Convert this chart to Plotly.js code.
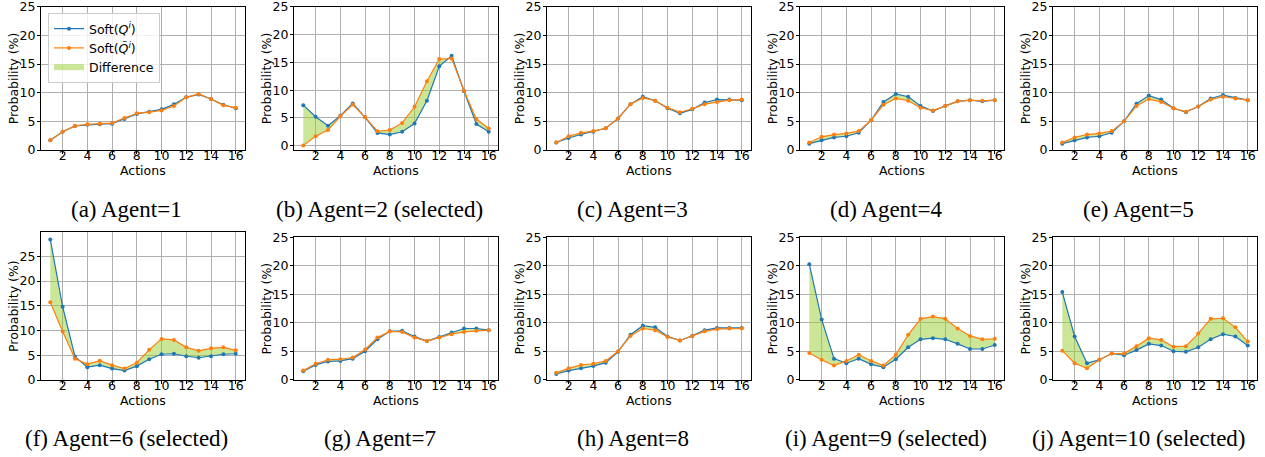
<!DOCTYPE html>
<html>
<head>
<meta charset="utf-8">
<script src="https://cdn.plot.ly/plotly-3.0.1.min.js"></script>
<style>html,body{margin:0;padding:0;background:#fff;}#chart{width:1265px;height:457px;}</style>
</head>
<body>
<div id="chart"></div>
<script>
// ---- data ----
const actions = [1,2,3,4,5,6,7,8,9,10,11,12,13,14,15,16];
const xTicks = [2,4,6,8,10,12,14,16];
const yTicks = [0,5,10,15,20,25];

const captions = [
  "(a) Agent=1", "(b) Agent=2 (selected)", "(c) Agent=3", "(d) Agent=4", "(e) Agent=5",
  "(f) Agent=6 (selected)", "(g) Agent=7", "(h) Agent=8", "(i) Agent=9 (selected)", "(j) Agent=10 (selected)"
];
const xTitle = "Actions";
const yTitle = "Probability (%)";

const softQ_agent1  = [1.7,3.2,4.2,4.4,4.5,4.6,5.4,6.3,6.7,7.1,8.0,9.2,9.7,8.9,7.9,7.3];
const softQt_agent1 = [1.7,3.2,4.2,4.5,4.6,4.7,5.6,6.4,6.6,6.9,7.7,9.2,9.8,8.9,7.8,7.4];

const softQ_agent2  = [7.3,5.2,3.6,5.4,7.6,5.1,2.3,2.0,2.5,4.0,8.1,14.3,16.2,9.8,3.9,2.5];
const softQt_agent2 = [0.05,1.7,2.8,5.3,7.4,5.1,2.6,2.8,4.1,7.0,11.6,15.6,15.7,9.9,4.8,3.1];

const softQ_agent3  = [1.3,2.1,2.7,3.2,3.8,5.5,8.0,9.3,8.6,7.3,6.4,7.1,8.3,8.8,8.8,8.7];
const softQt_agent3 = [1.3,2.4,3.0,3.3,3.8,5.5,8.0,9.1,8.6,7.4,6.6,7.2,8.0,8.4,8.7,8.8];

const softQ_agent4  = [1.1,1.7,2.2,2.4,3.0,5.2,8.4,9.8,9.3,7.7,6.8,7.7,8.5,8.7,8.5,8.7];
const softQt_agent4 = [1.3,2.3,2.7,2.9,3.3,5.2,7.9,9.0,8.6,7.4,6.9,7.7,8.5,8.7,8.6,8.7];

const softQ_agent5  = [1.1,1.7,2.2,2.4,3.0,5.0,8.1,9.5,8.8,7.3,6.6,7.6,9.0,9.6,9.1,8.7];
const softQt_agent5 = [1.3,2.2,2.7,2.9,3.3,5.0,7.7,8.9,8.4,7.3,6.7,7.6,8.8,9.3,9.0,8.7];

const softQ_agent6  = [28.4,14.8,4.7,2.6,3.0,2.3,1.9,2.8,4.2,5.2,5.3,4.8,4.5,4.8,5.2,5.3];
const softQt_agent6 = [15.7,9.8,4.3,3.2,3.9,3.0,2.3,3.5,6.1,8.3,8.1,6.6,5.9,6.4,6.6,6.0];

const softQ_agent7  = [1.5,2.6,3.2,3.3,3.7,5.0,7.1,8.5,8.6,7.6,6.8,7.5,8.3,9.0,9.0,8.7];
const softQt_agent7 = [1.6,2.8,3.5,3.6,3.9,5.3,7.4,8.5,8.4,7.4,6.8,7.4,8.0,8.4,8.6,8.7];

const softQ_agent8  = [1.0,1.6,2.0,2.4,3.0,4.9,7.9,9.5,9.2,7.6,6.9,7.7,8.7,9.1,9.1,9.1];
const softQt_agent8 = [1.2,2.0,2.6,2.8,3.3,5.0,7.7,9.0,8.7,7.5,6.9,7.7,8.5,8.9,9.0,9.0];

const softQ_agent9  = [20.3,10.6,3.7,2.9,3.7,2.7,2.2,3.6,5.7,7.1,7.3,7.1,6.3,5.4,5.4,6.1];
const softQt_agent9 = [4.7,3.5,2.5,3.3,4.4,3.3,2.5,4.4,7.9,10.7,11.1,10.7,9.0,7.7,7.1,7.2];

const softQ_agent10  = [15.4,7.6,2.9,3.5,4.6,4.3,5.2,6.3,6.0,5.0,4.9,5.7,7.1,8.0,7.6,6.0];
const softQt_agent10 = [5.1,2.9,2.0,3.5,4.6,4.6,5.9,7.3,7.0,5.8,5.9,8.1,10.7,10.8,9.2,6.7];

const softQ  = [softQ_agent1,softQ_agent2,softQ_agent3,softQ_agent4,softQ_agent5,softQ_agent6,softQ_agent7,softQ_agent8,softQ_agent9,softQ_agent10];
const softQt = [softQt_agent1,softQt_agent2,softQt_agent3,softQt_agent4,softQt_agent5,softQt_agent6,softQt_agent7,softQt_agent8,softQt_agent9,softQt_agent10];

const legendNames = ["Soft(<i>Q</i><sup><i>i</i></sup>)", "Soft(<i>Q̃</i><sup><i>i</i></sup>)", "Difference"];

// ---- layout geometry ----
const W = 1265, H = 457;
const colStep = 253, axLeft = 41, axRight = 245;
const yRanges = [[0,25.03],[-0.78,25.03],[0,25.03],[0,25.03],[0,25.03],[0,29.9],[0,25.03],[0,25.03],[0,25.03],[0,25.03]];
function rowBox(i){
  if (i < 5) return [6.7, 150];
  if (i === 5) return [232, 380];
  return [237.3, 379.7];
}

const BLUE = '#1f77b4', ORANGE = '#ff7f0e', FILL = 'rgba(154,205,50,0.5)';
const labelFont = {family:'DejaVu Sans', size:12.5, color:'#000'};
const tickFont = {family:'DejaVu Sans', size:12.5, color:'#000'};

const traces = [];
const layout = {
  width: W, height: H,
  margin: {l:0, r:0, t:0, b:0},
  paper_bgcolor: '#fff', plot_bgcolor: '#fff',
  showlegend: true,
  hovermode: false,
  legend: {
    x: 48/W, y: 1 - 13/H, xanchor:'left', yanchor:'top',
    bgcolor:'rgba(255,255,255,0.8)', bordercolor:'#cccccc', borderwidth:1,
    font: {family:'DejaVu Sans', size:12.5, color:'#000'},
    tracegroupgap: 0
  },
  annotations: [],
  font: {family:'DejaVu Sans', color:'#000'}
};

for (let i = 0; i < 10; i++) {
  const col = i % 5;
  const sfx = i === 0 ? '' : String(i+1);
  const xa = 'x' + sfx, ya = 'y' + sfx;
  const [top, bot] = rowBox(i);
  const x0 = (col*colStep + axLeft)/W, x1 = (col*colStep + axRight)/W;

  // difference fill
  traces.push({
    type:'scatter', mode:'none', xaxis: xa, yaxis: ya,
    x: actions.concat(actions.slice().reverse()),
    y: softQ[i].concat(softQt[i].slice().reverse()),
    fill:'toself', fillcolor: FILL, line:{width:0},
    name: legendNames[2], showlegend: i === 0, legendrank: 3, hoverinfo:'skip'
  });
  traces.push({
    type:'scatter', mode:'lines+markers', xaxis: xa, yaxis: ya,
    x: actions, y: softQ[i],
    line:{color: BLUE, width:1.2}, marker:{color: BLUE, size:4},
    name: legendNames[0], showlegend: i === 0, legendrank: 1
  });
  traces.push({
    type:'scatter', mode:'lines+markers', xaxis: xa, yaxis: ya,
    x: actions, y: softQt[i],
    line:{color: ORANGE, width:1.2}, marker:{color: ORANGE, size:4},
    name: legendNames[1], showlegend: i === 0, legendrank: 2
  });

  const axCommon = {
    showline:true, mirror:true, linecolor:'#000', linewidth:1,
    showgrid:true, gridcolor:'#b0b0b0', gridwidth:1,
    zeroline:false, ticks:'outside', ticklen:3, tickcolor:'#000', tickwidth:1,
    tickfont: tickFont, fixedrange:true, ticklabeloverflow:'allow'
  };
  layout['xaxis' + sfx] = Object.assign({}, axCommon, {
    domain:[x0, x1], anchor: ya, range:[0.25, 16.75],
    tickmode:'array', tickvals: xTicks, ticktext: xTicks.map(String),
    ticklabelstandoff: -9
  });
  layout['yaxis' + sfx] = Object.assign({}, axCommon, {
    domain:[1 - bot/H, 1 - top/H], anchor: xa, range: yRanges[i],
    tickmode:'array', tickvals: yTicks, ticktext: yTicks.map(String),
    ticklabelstandoff: -1
  });

  // axis titles
  layout.annotations.push({
    text: xTitle, xref:'paper', yref:'paper',
    x: (x0 + x1)/2, y: 1 - (i < 5 ? 170.5 : 400.8)/H,
    xanchor:'center', yanchor:'middle', showarrow:false, font: labelFont
  });
  layout.annotations.push({
    text: yTitle, xref:'paper', yref:'paper', textangle:-90,
    x: (col*colStep + 13)/W, y: 1 - ((top + bot)/2)/H,
    xanchor:'center', yanchor:'middle', showarrow:false, font: labelFont
  });

  layout.annotations.push({
    text: captions[i], xref:'paper', yref:'paper',
    x: (col*colStep + 126.5)/W, y: 1 - (i < 5 ? 210 : 438)/H,
    xanchor:'center', yanchor:'middle', showarrow:false,
    font:{family:'Liberation Serif', size:23, color:'#000'}
  });
}

Plotly.newPlot('chart', traces, layout, {staticPlot:true, displayModeBar:false});
</script>
</body>
</html>
